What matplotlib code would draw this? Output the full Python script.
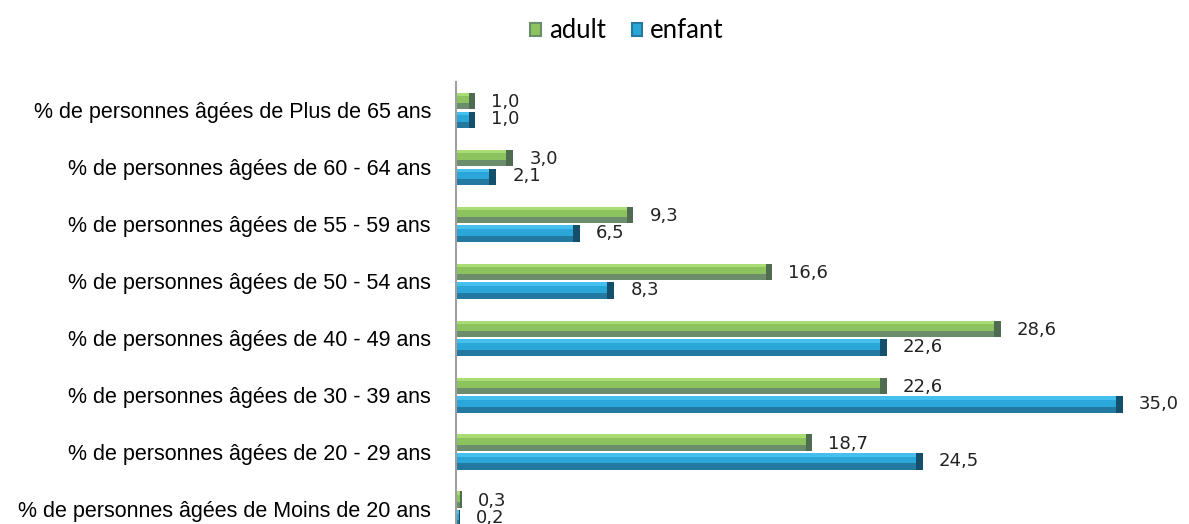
import numpy as np
import matplotlib.pyplot as plt
from matplotlib.patches import Rectangle

categories = [
    "% de personnes âgées de Plus de 65 ans",
    "% de personnes âgées de 60 - 64 ans",
    "% de personnes âgées de 55 - 59 ans",
    "% de personnes âgées de 50 - 54 ans",
    "% de personnes âgées de 40 - 49 ans",
    "% de personnes âgées de 30 - 39 ans",
    "% de personnes âgées de 20 - 29 ans",
    "% de personnes âgées de Moins de 20 ans",
]
adult = [1.0, 3.0, 9.3, 16.6, 28.6, 22.6, 18.7, 0.3]
enfant = [1.0, 2.1, 6.5, 8.3, 22.6, 35.0, 24.5, 0.2]

# colours: (top highlight, body, bottom shade, end cap)
GREEN = ("#a9dc72", "#8cc35e", "#6b8d6c", "#4f6b50")
BLUE = ("#45c0ee", "#2ba6d8", "#2479a0", "#14506c")


def bevel_bar(ax, y, w, h, cols):
    top, body, shade, cap = cols
    ax.add_patch(Rectangle((0, y - h / 2), w, h, facecolor=body, edgecolor="none"))
    ax.add_patch(Rectangle((0, y - h / 2), w, h * 0.22, facecolor=top, edgecolor="none"))
    ax.add_patch(Rectangle((0, y + h * 0.12), w, h * 0.38, facecolor=shade, edgecolor="none"))
    capw = min(0.35, w * 0.3)
    ax.add_patch(Rectangle((w - capw, y - h / 2), capw, h, facecolor=cap, edgecolor="none"))


fig = plt.figure(figsize=(11.89, 5.24), dpi=100)
# axes run slightly below the bottom edge, as in the cropped original
ax = fig.add_axes([456 / 1189, (524 - 537.5) / 524, 724 / 1189, (537.5 - 82) / 524])

y = np.arange(len(categories))
h = 0.29
off = 0.165
for i in y:
    bevel_bar(ax, i - off, adult[i], h, GREEN)
    bevel_bar(ax, i + off, enfant[i], h, BLUE)
    ax.text(adult[i] + 0.85, i - off + 0.02, f"{adult[i]:.1f}".replace(".", ","),
            va="center", ha="left", fontsize=13, family="DejaVu Sans", color="#222222")
    ax.text(enfant[i] + 0.85, i + off - 0.01, f"{enfant[i]:.1f}".replace(".", ","),
            va="center", ha="left", fontsize=13, family="DejaVu Sans", color="#222222")

ax.set_xlim(0, 38)
ax.set_ylim(len(categories) - 0.5, -0.5)
ax.set_yticks(y)
ax.set_yticklabels(categories, family="Liberation Sans", fontsize=15.5)
ax.tick_params(axis="y", length=0, pad=18)
ax.set_xticks([])
for s in ["top", "right", "bottom"]:
    ax.spines[s].set_visible(False)
ax.spines["left"].set_color("#a0a0a0")
ax.spines["left"].set_linewidth(1.5)

# legend
handles = [Rectangle((0, 0), 1, 1, facecolor=GREEN[1], edgecolor=GREEN[2], lw=1.5),
           Rectangle((0, 0), 1, 1, facecolor=BLUE[1], edgecolor=BLUE[2], lw=1.5)]
fig.legend(handles, ["adult", "enfant"], loc="center", bbox_to_anchor=(627 / 1189, 1 - 31 / 524),
           ncol=2, frameon=False, prop={"family": "Lato", "size": 18.5},
           handlelength=0.42, handleheight=0.42, handletextpad=0.3, columnspacing=1.0)

fig.savefig("out.png", dpi=100)
